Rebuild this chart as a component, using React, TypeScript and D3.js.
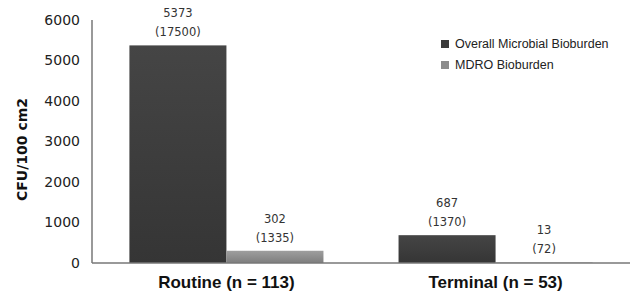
import React from "react";
import * as d3 from "d3";

const categories = ["Routine (n = 113)", "Terminal (n = 53)"];
const seriesNames = ["Overall Microbial Bioburden", "MDRO Bioburden"];
const overallValues = [5373, 687];
const overallRanges = [17500, 1370];
const mdroValues = [302, 13];
const mdroRanges = [1335, 72];
const yTicks = [0, 1000, 2000, 3000, 4000, 5000, 6000];

const width = 633;
const height = 292;
const left = 92;
const right = 630;
const top = 20;
const bottom = 263;

const colors = ["url(#darkGrad)", "url(#lightGrad)"];
const legendColors = ["#3a3a3a", "#8c8c8c"];

const App = () => {
  const xScale = d3
    .scaleBand<string>()
    .domain(categories)
    .range([left, right])
    .paddingInner(0.279)
    .paddingOuter(0.139);

  const subScale = d3
    .scaleBand<string>()
    .domain(seriesNames)
    .range([0, xScale.bandwidth()]);

  const yScale = d3.scaleLinear().domain([0, 6000]).range([bottom, top]);

  const rows = categories.map((c, i) => ({
    category: c,
    items: [
      { name: seriesNames[0], value: overallValues[i], range: overallRanges[i] },
      { name: seriesNames[1], value: mdroValues[i], range: mdroRanges[i] },
    ],
  }));

  return (
    <svg
      width={width}
      height={height}
      style={{ position: "absolute", left: 0, top: 0 }}
    >
      <defs>
        <linearGradient id="darkGrad" x1="0" y1="0" x2="0" y2="1">
          <stop offset="0%" stopColor="#454545" />
          <stop offset="100%" stopColor="#353535" />
        </linearGradient>
        <linearGradient id="lightGrad" x1="0" y1="0" x2="0" y2="1">
          <stop offset="0%" stopColor="#9e9e9e" />
          <stop offset="100%" stopColor="#7e7e7e" />
        </linearGradient>
      </defs>
      <rect width={width} height={height} fill="#fff" />

      {/* y ticks */}
      {yTicks.map((t) => (
        <text
          key={t}
          x={80}
          y={yScale(t)}
          dy="0.35em"
          textAnchor="end"
          fontFamily="DejaVu Sans"
          fontSize={14}
          fill="#222"
        >
          {t}
        </text>
      ))}

      <text
        transform={`translate(22, ${(top + bottom) / 2 + 8}) rotate(-90)`}
        textAnchor="middle"
        dy="0.35em"
        fontFamily="DejaVu Sans"
        fontWeight="bold"
        fontSize={14}
        fill="#111"
      >
        CFU/100 cm2
      </text>

      {rows.map((row) => (
        <g key={row.category} transform={`translate(${xScale(row.category)},0)`}>
          {row.items.map((d, j) => {
            const x = subScale(d.name) as number;
            const y = yScale(d.value);
            const cx = x + subScale.bandwidth() / 2;
            return (
              <g key={d.name}>
                <rect
                  x={x}
                  y={y}
                  width={subScale.bandwidth()}
                  height={bottom - y}
                  fill={colors[j]}
                />
                <text
                  x={cx}
                  y={y - 32}
                  dy="0.35em"
                  textAnchor="middle"
                  fontFamily="DejaVu Sans"
                  fontSize={11.5}
                  fill="#333"
                >
                  {d.value}
                </text>
                <text
                  x={cx}
                  y={y - 13}
                  dy="0.35em"
                  textAnchor="middle"
                  fontFamily="DejaVu Sans"
                  fontSize={11.5}
                  fill="#333"
                >
                  ({d.range})
                </text>
              </g>
            );
          })}
          <text
            x={xScale.bandwidth() / 2}
            y={282}
            dy="0.35em"
            textAnchor="middle"
            fontFamily="Liberation Sans"
            fontWeight="bold"
            fontSize={17}
            fill="#111"
          >
            {row.category}
          </text>
        </g>
      ))}

      {/* axes lines */}
      <line x1={left} x2={left} y1={top} y2={bottom} stroke="#777" strokeWidth={1.5} />
      <line x1={left} x2={right} y1={bottom} y2={bottom} stroke="#777" strokeWidth={1.5} />

      {/* legend */}
      {seriesNames.map((s, i) => (
        <g key={s} transform={`translate(441, ${44 + i * 21})`}>
          <rect x={0} y={-4} width={8} height={8} fill={legendColors[i]} />
          <text
            x={14}
            y={0}
            dy="0.35em"
            fontFamily="Liberation Sans"
            fontSize={12.5}
            fill="#222"
          >
            {s}
          </text>
        </g>
      ))}
    </svg>
  );
};

export default App;
